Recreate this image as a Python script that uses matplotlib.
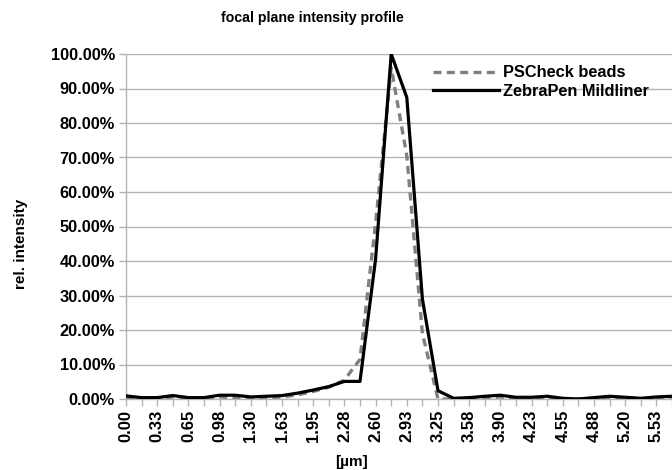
import matplotlib.pyplot as plt
import numpy as np
from matplotlib.ticker import FuncFormatter

plt.rcParams['font.family'] = ['Liberation Sans', 'DejaVu Sans']
plt.rcParams['font.weight'] = 'bold'

positions = ["0.00", "0.16", "0.33", "0.49", "0.65", "0.81", "0.98", "1.14", "1.30", "1.46",
             "1.63", "1.79", "1.95", "2.11", "2.28", "2.44", "2.60", "2.76", "2.93", "3.09",
             "3.25", "3.41", "3.58", "3.74", "3.90", "4.06", "4.23", "4.39", "4.55", "4.71",
             "4.88", "5.04", "5.20", "5.36", "5.53", "5.69"]

# relative intensity in percent
pscheck = [0.5, 0.2, 0.2, 0.6, 0.2, 0.2, 0.6, 0.4, 0.2, 0.4,
           0.6, 1.2, 2.2, 3.4, 5.5, 11.5, 51.0, 96.0, 70.5, 19.0,
           0.0, 0.0, 0.2, 0.4, 0.6, 0.2, 0.2, 0.4, 0.1, 0.0,
           0.2, 0.5, 0.3, 0.1, 0.4, 0.6]
zebrapen = [0.9, 0.4, 0.4, 1.0, 0.4, 0.4, 1.1, 1.1, 0.6, 0.8,
            1.0, 1.7, 2.6, 3.6, 5.1, 5.1, 40.6, 100.0, 87.4, 29.0,
            2.4, 0.2, 0.4, 0.8, 1.1, 0.5, 0.5, 0.8, 0.2, 0.0,
            0.4, 0.8, 0.5, 0.2, 0.6, 0.8]

grid_col = '#b3b3b3'
idx = np.arange(len(positions))

fig = plt.figure(figsize=(6.72, 4.70), dpi=100)
ax = fig.add_axes([126 / 672, 71 / 470, 546 / 672, 345 / 470])

ax.plot(idx, np.array(pscheck) / 100, color='#808080', lw=2.4, dashes=(2.4, 1.6),
        label='PSCheck beads', zorder=3)
ax.plot(idx, np.array(zebrapen) / 100, color='black', lw=2.3, label='ZebraPen Mildliner',
        zorder=4)

ax.set_xlim(0, 546 / 15.74)
ax.set_ylim(0, 1)
ax.set_yticks(np.arange(0, 1.01, 0.1))
ax.yaxis.set_major_formatter(FuncFormatter(lambda v, p: f"{v * 100:.2f}%"))
ax.set_xticks(idx)
ax.set_xticklabels([p if i % 2 == 0 else '' for i, p in enumerate(positions)],
                   rotation=90, fontsize=12, fontweight='bold')
for lab in ax.get_yticklabels():
    lab.set_fontsize(11.8)
    lab.set_fontweight('bold')

ax.grid(axis='y', color=grid_col, lw=1)
ax.set_axisbelow(True)
for s in ['top', 'right']:
    ax.spines[s].set_visible(False)
for s in ['left', 'bottom']:
    ax.spines[s].set_color(grid_col)
    ax.spines[s].set_linewidth(1)
ax.tick_params(axis='both', color=grid_col, length=5, width=1)
ax.tick_params(axis='y', pad=3)
ax.tick_params(axis='x', pad=3)

ax.set_ylabel('rel. intensity', fontsize=11, fontweight='bold')
ax.yaxis.set_label_coords(-0.18, 0.45)
fig.text(352 / 672, 1 - 462 / 470, '[µm]', ha='center', va='center',
         fontsize=11, fontweight='bold')
fig.text(312 / 672, 1 - 18 / 470, 'focal plane intensity profile', ha='center', va='center',
         fontsize=10.2, fontweight='bold')

leg = ax.legend(loc='upper left', bbox_to_anchor=(296 / 546, 1.0), frameon=False,
                prop={'size': 11.8, 'weight': 'bold'}, handlelength=4.0,
                handletextpad=0.25, labelspacing=0.2, borderaxespad=0.3)

fig.savefig('out.png', dpi=100)
